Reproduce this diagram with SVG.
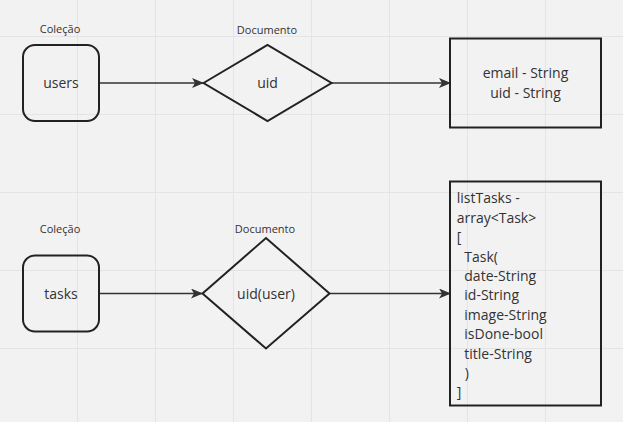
<svg xmlns="http://www.w3.org/2000/svg" width="623" height="422" viewBox="0 0 623 422">
<defs>
<style>
.bg{fill:#f2f2f2}
.grid{stroke:#e4e4e4;stroke-width:1}
.shape{fill:none;stroke:#222;stroke-width:2}
.conn{stroke:#333;stroke-width:1.5;fill:none}
text{font-family:"Open Sans","Liberation Sans",sans-serif;fill:#333}
.lbl{font-size:11px;text-anchor:middle}
.main{font-size:14px;text-anchor:middle}
.body{font-size:14px}
</style>
<marker id="arr" markerWidth="12" markerHeight="10" viewBox="0 0 12 10" refX="11" refY="5" orient="auto" markerUnits="userSpaceOnUse">
<path d="M0,0 L12,5 L0,10 L3,5 Z" fill="#333"/>
</marker>
</defs>
<rect class="bg" x="0" y="0" width="623" height="422"/>
<g id="grid" class="grid">
<line x1="77.5" y1="0" x2="77.5" y2="422"/>
<line x1="155.5" y1="0" x2="155.5" y2="422"/>
<line x1="233.5" y1="0" x2="233.5" y2="422"/>
<line x1="311.5" y1="0" x2="311.5" y2="422"/>
<line x1="389.5" y1="0" x2="389.5" y2="422"/>
<line x1="467.5" y1="0" x2="467.5" y2="422"/>
<line x1="545.5" y1="0" x2="545.5" y2="422"/>
<line x1="0" y1="36.5" x2="623" y2="36.5"/>
<line x1="0" y1="114.5" x2="623" y2="114.5"/>
<line x1="0" y1="192.5" x2="623" y2="192.5"/>
<line x1="0" y1="270.5" x2="623" y2="270.5"/>
<line x1="0" y1="348.5" x2="623" y2="348.5"/>
</g>
<g id="connectors">
<line class="conn" x1="100" y1="83" x2="203" y2="83" marker-end="url(#arr)"/>
<line class="conn" x1="332" y1="83" x2="450" y2="83" marker-end="url(#arr)"/>
<line class="conn" x1="100" y1="293.5" x2="202" y2="293.5" marker-end="url(#arr)"/>
<line class="conn" x1="330" y1="293.5" x2="450" y2="293.5" marker-end="url(#arr)"/>
</g>
<g id="users">
<text class="lbl" x="60" y="33">Coleção</text>
<rect class="shape" x="23" y="45" width="76" height="76" rx="12"/>
<text class="main" x="61" y="88">users</text>
</g>
<g id="uid">
<text class="lbl" x="267" y="34">Documento</text>
<polygon class="shape" points="203.5,83 267.5,45 331.5,83 267.5,121"/>
<text class="main" x="267.5" y="88">uid</text>
</g>
<g id="userFields">
<rect class="shape" x="450" y="38.5" width="151" height="89"/>
<text class="main" x="525.5" y="78.3">email - String</text>
<text class="main" x="525.5" y="97.7">uid - String</text>
</g>
<g id="tasks">
<text class="lbl" x="60" y="233">Coleção</text>
<rect class="shape" x="23" y="255.5" width="76" height="76" rx="12"/>
<text class="main" x="61" y="299">tasks</text>
</g>
<g id="uidUser">
<text class="lbl" x="265" y="233">Documento</text>
<polygon class="shape" points="202.5,293.5 266,238 329.5,293.5 266,348.5"/>
<text class="main" x="266" y="299">uid(user)</text>
</g>
<g id="taskFields">
<rect class="shape" x="450" y="181.5" width="151" height="224"/>
<text class="body" x="456.7" y="203.3">listTasks -</text>
<text class="body" x="456.7" y="222.7">array&lt;Task&gt;</text>
<text class="body" x="456.7" y="242.1">[</text>
<text class="body" x="464.3" y="261.5">Task(</text>
<text class="body" x="464.3" y="280.9">date-String</text>
<text class="body" x="464.3" y="300.3">id-String</text>
<text class="body" x="464.3" y="319.7">image-String</text>
<text class="body" x="464.3" y="339.1">isDone-bool</text>
<text class="body" x="464.3" y="358.5">title-String</text>
<text class="body" x="464.8" y="377.9">)</text>
<text class="body" x="456.7" y="397.3">]</text>
</g>
</svg>
